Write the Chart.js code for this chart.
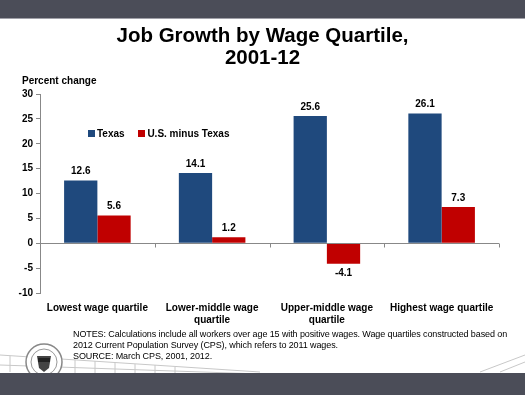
<!DOCTYPE html>
<html>
<head>
<meta charset="utf-8">
<script src="https://cdn.jsdelivr.net/npm/chart.js@4"></script>
<style>
  body { margin: 0; width: 525px; height: 395px; overflow: hidden; background: #fff; font-family: "Liberation Sans", Arial, sans-serif; }
  #wrap { position: relative; width: 525px; height: 395px; }
  #chart { position: absolute; left: 0; top: 0; }
  .topband { position: absolute; left: 0; top: 0; width: 525px; height: 18px; background: #4b4d58; border-bottom: 1px solid #a0a0a8; }
  .botband { position: absolute; left: 0; top: 373px; width: 525px; height: 22px; background: #4b4d58; }
  .title { position: absolute; left: 0; top: 24px; width: 525px; text-align: center; font-weight: bold; font-size: 20.5px; line-height: 22px; color: #000; }
  .ylab { position: absolute; left: 22px; top: 75px; font-weight: bold; font-size: 10px; }
  .legend { position: absolute; left: 88px; top: 128px; font-weight: bold; font-size: 10px; }
  .legend span.sw { display: inline-block; width: 7px; height: 7px; margin-right: 2px; }
  .notes { position: absolute; left: 73px; top: 329px; font-size: 9px; line-height: 11px; letter-spacing: -0.1px; color: #000; white-space: nowrap; }
  svg { position: absolute; left: 0; top: 0; }
</style>
</head>
<body>
<div id="wrap">
  <svg width="525" height="395">
    <g stroke="#c8c8c8" stroke-width="1" fill="none">
      <line x1="0" y1="355" x2="260" y2="372" />
      <line x1="0" y1="365" x2="260" y2="374" />
      <line x1="10" y1="356" x2="10" y2="372" />
      <line x1="75" y1="360" x2="75" y2="373" />
      <line x1="95" y1="361" x2="95" y2="373" />
      <line x1="115" y1="363" x2="115" y2="373" />
      <line x1="135" y1="364" x2="135" y2="373" />
      <line x1="155" y1="365" x2="155" y2="373" />
      <line x1="175" y1="367" x2="175" y2="373" />
      <line x1="480" y1="372" x2="525" y2="355" />
      <line x1="500" y1="372" x2="525" y2="362" />
    </g>
    <circle cx="44" cy="362" r="18" fill="#fff" stroke="#888" stroke-width="1.5" />
    <circle cx="44" cy="362" r="13" fill="#fff" stroke="#999" stroke-width="1" />
    <path d="M37 356 L51 356 L49 368 L44 372 L39 368 Z" fill="#444" />
    <rect x="38" y="358" width="12" height="4" fill="#222" />
  </svg>
  <div class="topband"></div>
  <div class="botband"></div>
  <canvas id="chart" width="525" height="395"></canvas>
  <div class="title">Job Growth by Wage Quartile,<br>2001-12</div>
  <div class="ylab">Percent change</div>
  <div class="legend">
    <span class="sw" style="background:#1f497d"></span>Texas
    <span class="sw" style="background:#c00000;margin-left:11px"></span>U.S. minus Texas
  </div>
  <div class="notes">NOTES: Calculations include all workers over age 15 with positive wages. Wage quartiles constructed based on<br>2012 Current Population Survey (CPS), which refers to 2011 wages.<br>SOURCE: March CPS, 2001, 2012.</div>
</div>
<script>
// dados
const categorias = [
  'Lowest wage quartile',
  ['Lower-middle wage', 'quartile'],
  ['Upper-middle wage', 'quartile'],
  'Highest wage quartile'
];
const texas = [12.6, 14.1, 25.6, 26.1];
const usMenosTexas = [5.6, 1.2, -4.1, 7.3];
const yMin = -10, yMax = 30, yPasso = 5;

const fonte = { family: '"Liberation Sans", Arial, sans-serif', size: 10, weight: 'bold' };

// linha do zero com marcas entre categorias
const linhaZero = {
  id: 'linhaZero',
  afterDatasetsDraw(chart) {
    const { ctx, chartArea, scales } = chart;
    const y0 = Math.round(scales.y.getPixelForValue(0)) + 0.5;
    ctx.save();
    ctx.strokeStyle = '#888';
    ctx.lineWidth = 1;
    ctx.beginPath();
    ctx.moveTo(chartArea.left, y0);
    ctx.lineTo(chartArea.right, y0);
    const n = categorias.length;
    for (let i = 1; i <= n; i++) {
      const x = Math.round(chartArea.left + (chartArea.right - chartArea.left) * i / n) + 0.5;
      ctx.moveTo(x, y0);
      ctx.lineTo(x, y0 + 4);
    }
    ctx.stroke();
    ctx.restore();
  }
};

// rótulos de valor
const rotulos = {
  id: 'rotulos',
  afterDatasetsDraw(chart) {
    const { ctx } = chart;
    ctx.save();
    ctx.font = 'bold 10px "Liberation Sans", Arial, sans-serif';
    ctx.fillStyle = '#000';
    ctx.textAlign = 'center';
    chart.data.datasets.forEach((ds, i) => {
      chart.getDatasetMeta(i).data.forEach((bar, j) => {
        const v = ds.data[j];
        if (v >= 0) {
          ctx.textBaseline = 'bottom';
          ctx.fillText(v.toFixed(1), bar.x, bar.y - 4);
        } else {
          ctx.textBaseline = 'top';
          ctx.fillText(v.toFixed(1), bar.x, bar.y + 5);
        }
      });
    });
    ctx.restore();
  }
};

new Chart(document.getElementById('chart'), {
  type: 'bar',
  data: {
    labels: categorias,
    datasets: [
      { label: 'Texas', data: texas, backgroundColor: '#1f497d' },
      { label: 'U.S. minus Texas', data: usMenosTexas, backgroundColor: '#c00000' }
    ]
  },
  options: {
    responsive: false,
    animation: false,
    layout: { padding: { left: 0, top: 94, right: 26, bottom: 0 } },
    datasets: { bar: { categoryPercentage: 0.58, barPercentage: 1.0 } },
    plugins: { legend: { display: false }, tooltip: { enabled: false } },
    scales: {
      x: {
        grid: { display: false },
        border: { display: false },
        ticks: { color: '#000', font: fonte, padding: 1, maxRotation: 0, autoSkip: false },
        afterFit(s) { s.height = 102; }
      },
      y: {
        min: yMin,
        max: yMax,
        ticks: { stepSize: yPasso, color: '#000', font: fonte, padding: 3 },
        grid: { drawOnChartArea: false, drawTicks: true, tickLength: 4, color: '#888' },
        border: { display: true, color: '#888' },
        afterFit(s) { s.width = 40; }
      }
    }
  },
  plugins: [linhaZero, rotulos]
});
</script>
</body>
</html>
